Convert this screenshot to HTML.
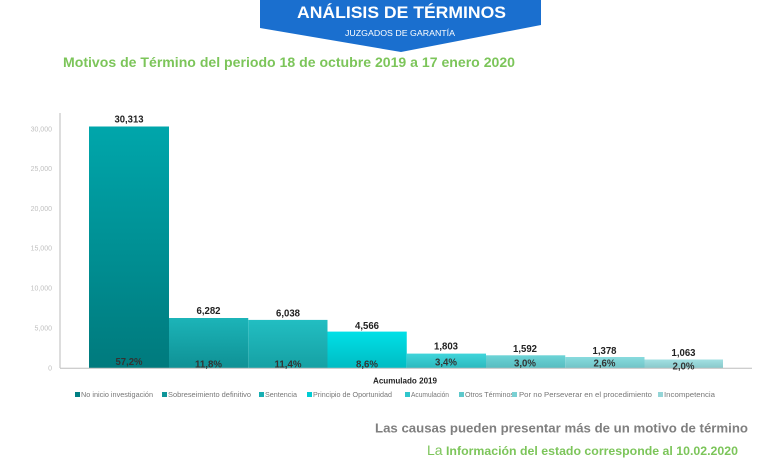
<!DOCTYPE html>
<html><head><meta charset="utf-8"><style>
html,body{margin:0;padding:0;background:#fff;}
svg{display:block;font-family:"Liberation Sans",Arial,sans-serif;}
</style></head><body>
<svg width="784" height="462" viewBox="0 0 784 462" xmlns="http://www.w3.org/2000/svg">
<defs>
<linearGradient id="g1" x1="0" y1="0" x2="0" y2="1"><stop offset="0" stop-color="#00a6ab"/><stop offset="1" stop-color="#007a7d"/></linearGradient>
<linearGradient id="g2" x1="0" y1="0" x2="0" y2="1"><stop offset="0" stop-color="#1cb4b8"/><stop offset="1" stop-color="#0f9195"/></linearGradient>
<linearGradient id="g3" x1="0" y1="0" x2="0" y2="1"><stop offset="0" stop-color="#22bec2"/><stop offset="1" stop-color="#16a1a4"/></linearGradient>
<linearGradient id="g4" x1="0" y1="0" x2="0" y2="1"><stop offset="0" stop-color="#00e0e7"/><stop offset="1" stop-color="#00bcc3"/></linearGradient>
<linearGradient id="g5" x1="0" y1="0" x2="0" y2="1"><stop offset="0" stop-color="#40d5db"/><stop offset="1" stop-color="#2cb9be"/></linearGradient>
<linearGradient id="g6" x1="0" y1="0" x2="0" y2="1"><stop offset="0" stop-color="#6cd4d7"/><stop offset="1" stop-color="#58bcbf"/></linearGradient>
<linearGradient id="g7" x1="0" y1="0" x2="0" y2="1"><stop offset="0" stop-color="#88dbde"/><stop offset="1" stop-color="#70c4c7"/></linearGradient>
<linearGradient id="g8" x1="0" y1="0" x2="0" y2="1"><stop offset="0" stop-color="#a2e0e2"/><stop offset="1" stop-color="#88c9cb"/></linearGradient>
</defs>

<!-- Banner -->
<polygon points="260,0 541,0 541,25 401,52 260,28" fill="#1a6fcf"/>
<text x="401.5" y="18" text-anchor="middle" font-size="17" font-weight="bold" fill="#fff" textLength="209" lengthAdjust="spacingAndGlyphs">ANÁLISIS DE TÉRMINOS</text>
<text x="400" y="36" text-anchor="middle" font-size="8" fill="#fff" textLength="110" lengthAdjust="spacingAndGlyphs">JUZGADOS DE GARANTÍA</text>

<!-- Title -->
<text x="63" y="67" font-size="14" font-weight="bold" fill="#7cc55a" textLength="452" lengthAdjust="spacingAndGlyphs">Motivos de Término del periodo 18 de octubre 2019 a 17 enero 2020</text>

<!-- Y axis ticks -->
<g font-size="7" fill="#c0c0c0" text-anchor="end">
<text x="52" y="131.5">30,000</text>
<text x="52" y="171">25,000</text>
<text x="52" y="211">20,000</text>
<text x="52" y="250.5">15,000</text>
<text x="52" y="290.5">10,000</text>
<text x="52" y="330.5">5,000</text>
<text x="52" y="370.5">0</text>
</g>
<line x1="60" y1="113" x2="60" y2="368" stroke="#d2d2d2" stroke-width="1.5"/>

<!-- Bars -->
<rect x="89" y="126.5" width="80" height="241.5" fill="url(#g1)"/>
<rect x="169" y="318" width="79.25" height="50" fill="url(#g2)"/>
<rect x="248.25" y="319.9" width="79.25" height="48.1" fill="url(#g3)"/>
<rect x="327.5" y="331.6" width="79.25" height="36.4" fill="url(#g4)"/>
<rect x="406.75" y="353.6" width="79.25" height="14.4" fill="url(#g5)"/>
<rect x="486" y="355.3" width="79.25" height="12.7" fill="url(#g6)"/>
<rect x="565.25" y="357" width="79.25" height="11" fill="url(#g7)"/>
<rect x="644.5" y="359.5" width="78.5" height="8.5" fill="url(#g8)"/>
<line x1="60" y1="368.3" x2="752" y2="368.3" stroke="#bdbdbd" stroke-width="1"/>

<!-- Value labels -->
<g font-size="10.5" font-weight="bold" fill="#222" text-anchor="middle">
<text x="129" y="122.5" textLength="29" lengthAdjust="spacingAndGlyphs">30,313</text>
<text x="208.5" y="314" textLength="24" lengthAdjust="spacingAndGlyphs">6,282</text>
<text x="288" y="316.5" textLength="24" lengthAdjust="spacingAndGlyphs">6,038</text>
<text x="367" y="329" textLength="24" lengthAdjust="spacingAndGlyphs">4,566</text>
<text x="446" y="349.5" textLength="24" lengthAdjust="spacingAndGlyphs">1,803</text>
<text x="525" y="352" textLength="24" lengthAdjust="spacingAndGlyphs">1,592</text>
<text x="604.5" y="354" textLength="24" lengthAdjust="spacingAndGlyphs">1,378</text>
<text x="683.5" y="356" textLength="24" lengthAdjust="spacingAndGlyphs">1,063</text>
</g>
<!-- Percent labels -->
<g font-size="10.5" font-weight="bold" fill="#333" text-anchor="middle">
<text x="129" y="365" textLength="27" lengthAdjust="spacingAndGlyphs">57,2%</text>
<text x="208.5" y="367.5" textLength="27" lengthAdjust="spacingAndGlyphs">11,8%</text>
<text x="288" y="367.5" textLength="27" lengthAdjust="spacingAndGlyphs">11,4%</text>
<text x="367" y="367.5" textLength="22" lengthAdjust="spacingAndGlyphs">8,6%</text>
<text x="446" y="365.5" textLength="22" lengthAdjust="spacingAndGlyphs">3,4%</text>
<text x="525" y="366.5" textLength="22" lengthAdjust="spacingAndGlyphs">3,0%</text>
<text x="604.5" y="366.5" textLength="22" lengthAdjust="spacingAndGlyphs">2,6%</text>
<text x="683.5" y="369.5" textLength="22" lengthAdjust="spacingAndGlyphs">2,0%</text>
</g>

<!-- X axis title -->
<text x="405" y="383.5" text-anchor="middle" font-size="8" font-weight="bold" fill="#222" textLength="64" lengthAdjust="spacingAndGlyphs">Acumulado 2019</text>

<!-- Legend -->
<g font-size="7.5" fill="#777">
<rect x="75" y="392" width="5" height="5" fill="#007f83"/>
<text x="81" y="397" textLength="72" lengthAdjust="spacingAndGlyphs">No inicio investigación</text>
<rect x="162" y="392" width="5" height="5" fill="#0f9599"/>
<text x="168" y="397" textLength="83" lengthAdjust="spacingAndGlyphs">Sobreseimiento definitivo</text>
<rect x="259" y="392" width="5" height="5" fill="#18aeb2"/>
<text x="265" y="397" textLength="32" lengthAdjust="spacingAndGlyphs">Sentencia</text>
<rect x="307" y="392" width="5" height="5" fill="#00ccd3"/>
<text x="313" y="397" textLength="79" lengthAdjust="spacingAndGlyphs">Principio de Oportunidad</text>
<rect x="405" y="392" width="5" height="5" fill="#30c6cc"/>
<text x="411" y="397" textLength="38" lengthAdjust="spacingAndGlyphs">Acumulación</text>
<rect x="459" y="392" width="5" height="5" fill="#5ec8cb"/>
<text x="465" y="397" textLength="49" lengthAdjust="spacingAndGlyphs">Otros Términos</text>
<rect x="512" y="392" width="5" height="5" fill="#7ad0d3"/>
<text x="519" y="397" textLength="133" lengthAdjust="spacingAndGlyphs">Por no Perseverar en el procedimiento</text>
<rect x="658" y="392" width="5" height="5" fill="#94d5d7"/>
<text x="664" y="397" textLength="51" lengthAdjust="spacingAndGlyphs">Incompetencia</text>
</g>

<!-- Footer notes -->
<text x="375" y="432.5" font-size="13" font-weight="bold" fill="#7f7f7f" textLength="373" lengthAdjust="spacingAndGlyphs">Las causas pueden presentar más de un motivo de término</text>
<text x="427" y="455" font-size="14" fill="#7cc55a">La</text>
<text x="446" y="455" font-size="11.5" font-weight="bold" fill="#7cc55a" textLength="292" lengthAdjust="spacingAndGlyphs">Información del estado corresponde al 10.02.2020</text>
</svg>
</body></html>
